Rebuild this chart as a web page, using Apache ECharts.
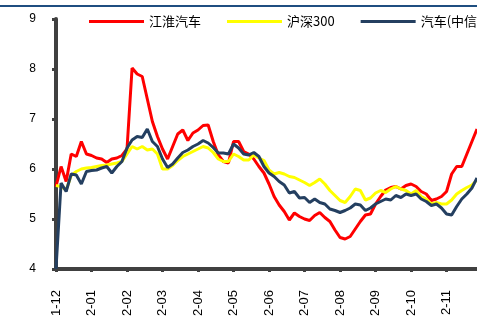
<!DOCTYPE html>
<html>
<head>
<meta charset="utf-8">
<script src="https://cdn.jsdelivr.net/npm/echarts@6/dist/echarts.min.js"></script>
<style>
  html, body { margin: 0; padding: 0; background: #fff; }
  #chart { width: 477px; height: 320px; }
</style>
</head>
<body>
<div id="chart"></div>
<script>
// month tick labels as printed (one every 7 samples)
var monthLabels = ['1-12', '2-01', '2-02', '2-03', '2-04', '2-05',
                   '2-06', '2-07', '2-08', '2-09', '2-10', '2-11'];
var perMonth = 7;

var seriesNames = ['江淮汽车', '沪深300', '汽车(中信)'];

var jac = [5.65, 6.05, 5.75, 6.3, 6.25, 6.55, 6.3, 6.27, 6.22, 6.2,
           6.13, 6.2, 6.22, 6.27, 6.4, 8.02, 7.9, 7.85, 7.4, 6.95,
           6.65, 6.4, 6.2, 6.45, 6.7, 6.78, 6.57, 6.72, 6.78, 6.87,
           6.88, 6.55, 6.28, 6.15, 6.12, 6.55, 6.55, 6.35, 6.3, 6.2,
           6.05, 5.92, 5.7, 5.45, 5.28, 5.15, 4.98, 5.12, 5.05, 5.0,
           4.97, 5.07, 5.13, 5.03, 4.95, 4.78, 4.63, 4.6, 4.65, 4.8,
           4.95, 5.08, 5.1, 5.3, 5.45, 5.58, 5.63, 5.65, 5.6, 5.67,
           5.7, 5.65, 5.55, 5.5, 5.37, 5.4, 5.45, 5.55, 5.9, 6.05,
           6.05, 6.3, 6.55, 6.8];

var hs300 = [5.67, 5.65, 5.58, 5.87, 5.95, 6.0, 6.02, 6.03, 6.05, 6.07,
             6.08, 6.1, 6.12, 6.15, 6.3, 6.45, 6.4, 6.45, 6.38, 6.4,
             6.3, 6.0, 6.0, 6.07, 6.17, 6.25, 6.3, 6.35, 6.4, 6.45,
             6.42, 6.33, 6.2, 6.15, 6.15, 6.3, 6.25, 6.18, 6.18, 6.28,
             6.22, 6.17, 5.98, 5.9, 5.93, 5.9, 5.85, 5.83, 5.78, 5.73,
             5.67, 5.73, 5.8, 5.7, 5.57, 5.47, 5.37, 5.33, 5.45, 5.6,
             5.57, 5.38, 5.42, 5.52, 5.57, 5.53, 5.6, 5.65, 5.6, 5.57,
             5.5, 5.57, 5.45, 5.4, 5.3, 5.33, 5.3, 5.3, 5.38, 5.5,
             5.57, 5.63, 5.68, 5.78];

var autoIdx = [4.0, 5.72, 5.55, 5.9, 5.88, 5.7, 5.95, 5.97, 5.98, 6.02,
               6.05, 5.92, 6.05, 6.15, 6.42, 6.58, 6.65, 6.63, 6.8, 6.55,
               6.45, 6.2, 6.03, 6.1, 6.22, 6.33, 6.38, 6.45, 6.5, 6.57,
               6.52, 6.43, 6.32, 6.32, 6.3, 6.5, 6.42, 6.3, 6.28, 6.33,
               6.25, 6.05, 5.92, 5.85, 5.75, 5.68, 5.52, 5.55, 5.42, 5.43,
               5.33, 5.4, 5.33, 5.3, 5.2, 5.17, 5.13, 5.17, 5.22, 5.3,
               5.28, 5.17, 5.22, 5.3, 5.35, 5.4, 5.38, 5.47, 5.43, 5.5,
               5.47, 5.5, 5.4, 5.35, 5.27, 5.3, 5.22, 5.1, 5.08, 5.25,
               5.4, 5.5, 5.62, 5.82];

var colors = ['#ff0000', '#ffff00', '#243f60'];

// category list: month label on every 7th sample, blank otherwise
var categories = [];
for (var i = 0; i < jac.length; i++) {
    categories.push(i % perMonth === 0 ? monthLabels[i / perMonth] : '');
}

var chart = echarts.init(document.getElementById('chart'));
chart.setOption({
    animation: false,
    color: colors,
    textStyle: { fontFamily: '"Liberation Sans", Arial, sans-serif' },
    graphic: [{
        type: 'line',
        shape: { x1: 0, y1: 6, x2: 477, y2: 6 },
        style: { stroke: '#1f4e80', lineWidth: 2 }
    }],
    legend: {
        left: 84,
        top: 10,
        width: 600,
        icon: 'rect',
        itemWidth: 55,
        itemHeight: 3,
        itemGap: 26,
        textStyle: { fontSize: 13, color: '#000', fontFamily: '"Noto Sans CJK SC", sans-serif' },
        data: seriesNames
    },
    grid: { left: 56, right: 0, top: 19, bottom: 51, outerBoundsMode: 'none', containLabel: false },
    xAxis: {
        type: 'category',
        boundaryGap: false,
        data: categories,
        axisLine: { lineStyle: { color: '#404040', width: 4 } },
        axisTick: { interval: perMonth - 1, length: 3, lineStyle: { color: '#404040', width: 3 } },
        axisLabel: { interval: perMonth - 1, rotate: 90, margin: 21, fontSize: 13, color: '#000' },
        splitLine: { show: false }
    },
    yAxis: {
        type: 'value',
        min: 4,
        max: 9,
        interval: 1,
        axisLine: { show: true, lineStyle: { color: '#404040', width: 4 } },
        axisTick: { show: true, length: 4, lineStyle: { color: '#404040', width: 3 } },
        axisLabel: { margin: 20, fontSize: 12, color: '#000' },
        splitLine: { show: false }
    },
    series: [
        { name: seriesNames[0], type: 'line', data: jac, showSymbol: false, lineStyle: { width: 3 } },
        { name: seriesNames[1], type: 'line', data: hs300, showSymbol: false, lineStyle: { width: 3 } },
        { name: seriesNames[2], type: 'line', data: autoIdx, showSymbol: false, lineStyle: { width: 3 } }
    ]
});
</script>
</body>
</html>
